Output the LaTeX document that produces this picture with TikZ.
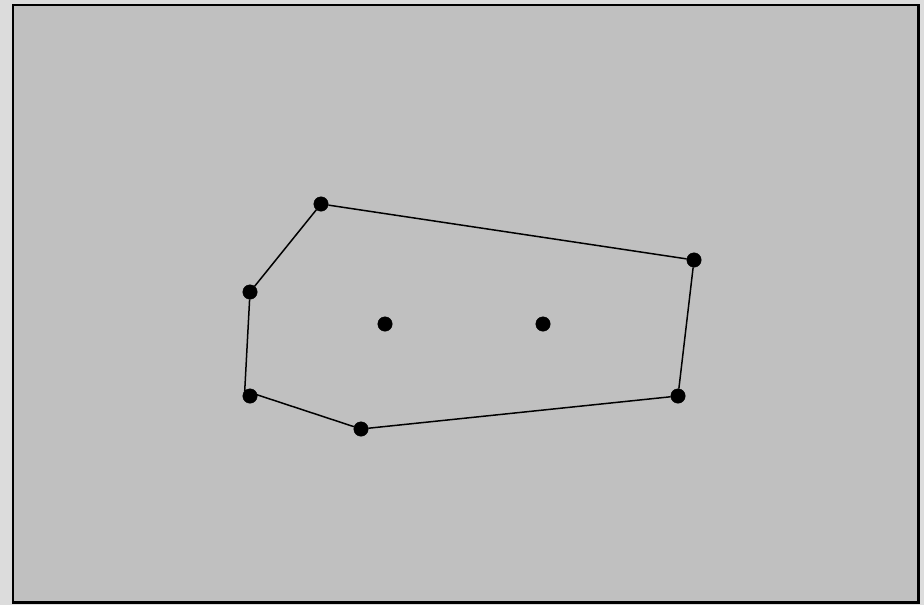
\documentclass[tikz,border=0pt]{standalone}
\usepackage{xcolor}
\usepackage{tikz}

\definecolor{canvas}{HTML}{C0C0C0}
\definecolor{outside}{HTML}{DCDCDC}

\tikzset{vtx/.style={circle, draw, fill=black, minimum size=14.5pt, inner sep=0pt}}

\begin{document}
\begin{tikzpicture}[x=1pt, y=-1pt]
        \fill[outside] (0, 0) rectangle (924, 605);
        \useasboundingbox (0, 0) rectangle (924, 605);
        \draw[line width=2.5pt, fill=canvas] (13, 5) rectangle (918.5, 602.5);
        \node[vtx] (v1) at (321, 204) {};
        \node[vtx] (v2) at (694, 260) {};
        \node[vtx] (v3) at (678, 396) {};
        \node[vtx] (v4) at (361, 429) {};
        \node[vtx] (v5) at (250, 396) {};
        \node[vtx] (v6) at (250, 292) {};
        \node[vtx] (v7) at (385, 324) {};
        \node[vtx] (v8) at (543, 324) {};
        \draw[line width=1.5pt] (v1) -- (v2) -- (v3) -- (v4) -- (v5.north west) -- (v6) -- (v1);
      \end{tikzpicture}
\end{document}
